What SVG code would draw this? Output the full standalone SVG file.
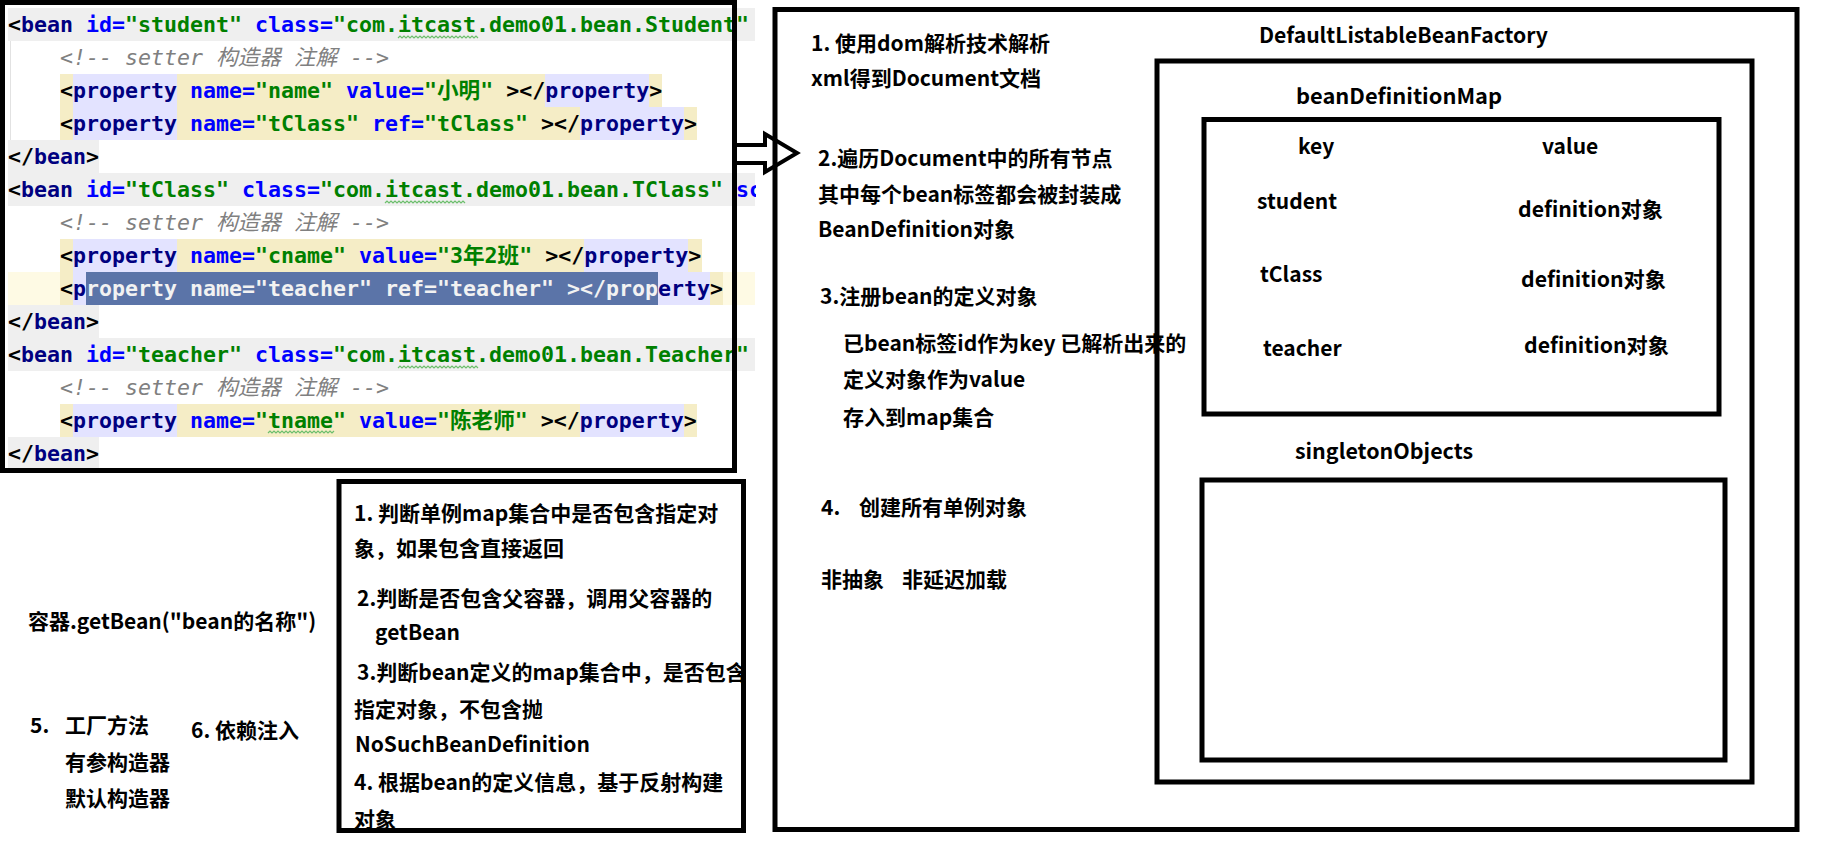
<svg xmlns="http://www.w3.org/2000/svg" width="1835" height="849" viewBox="0 0 1835 849">
<style>
.c{font-family:"DejaVu Sans Mono","Liberation Mono","Noto Sans CJK SC",monospace;font-size:21.6px;font-weight:bold}
.k{fill:#000}
.tg{fill:#000080}
.at{fill:#0000ff}
.v{fill:#008000}
.cm{fill:#808080;font-style:italic;font-weight:normal}
.sel{fill:#f2f2f2}
.g{fill:#efefef}
.y{fill:#f5edc6}
.lv{fill:#e3e3ff}
.box{fill:none;stroke:#000;stroke-width:5}
.t{font-family:"Noto Sans CJK SC","Noto Sans",sans-serif;font-weight:bold;font-size:21px;fill:#000}
.s{font-size:21px}
.wv{fill:none;stroke:#6cbf6c;stroke-width:1.2}
</style>
<defs>
<clipPath id="codeClip"><rect x="0" y="0" width="756" height="476"/></clipPath>
<clipPath id="stepClip"><rect x="339" y="481" width="404" height="350"/></clipPath>
<path id="wavy78" class="wv" d="M0,0 l2,-2 l2,2 l2,-2 l2,2 l2,-2 l2,2 l2,-2 l2,2 l2,-2 l2,2 l2,-2 l2,2 l2,-2 l2,2 l2,-2 l2,2 l2,-2 l2,2 l2,-2 l2,2 l2,-2 l2,2 l2,-2 l2,2 l2,-2 l2,2 l2,-2 l2,2 l2,-2 l2,2 l2,-2 l2,2 l2,-2 l2,2 l2,-2 l2,2 l2,-2 l2,2 l2,-2 l2,2"/>
<path id="wavy66" class="wv" d="M0,0 l2,-2 l2,2 l2,-2 l2,2 l2,-2 l2,2 l2,-2 l2,2 l2,-2 l2,2 l2,-2 l2,2 l2,-2 l2,2 l2,-2 l2,2 l2,-2 l2,2 l2,-2 l2,2 l2,-2 l2,2 l2,-2 l2,2 l2,-2 l2,2 l2,-2 l2,2 l2,-2 l2,2 l2,-2 l2,2 l2,-2"/>
</defs>
<rect width="1835" height="849" fill="#fff"/>

<g id="code-block" clip-path="url(#codeClip)">
  <rect class="g" x="8" y="8" width="747" height="33"/>
  <rect class="g" x="8" y="140" width="91" height="33"/>
  <rect class="g" x="8" y="173" width="747" height="33"/>
  <rect fill="#fefae4" x="8" y="272" width="747" height="33"/>
  <rect class="g" x="8" y="305" width="91" height="33"/>
  <rect class="g" x="8" y="338" width="747" height="33"/>
  <rect class="g" x="8" y="437" width="91" height="33"/>
  <line x1="10.5" y1="41" x2="10.5" y2="140" stroke="#e2e2e2" stroke-width="1"/>
  <rect class="y" x="60" y="74" width="602" height="33"/>
  <rect class="y" x="60" y="107" width="637" height="33"/>
  <rect class="y" x="60" y="239" width="642" height="33"/>
  <rect class="y" x="60" y="272" width="663" height="33"/>
  <rect class="y" x="60" y="404" width="637" height="33"/>
  <rect class="lv" x="73" y="74" width="104" height="33"/>
  <rect class="lv" x="545" y="74" width="104" height="33"/>
  <rect class="lv" x="73" y="107" width="104" height="33"/>
  <rect class="lv" x="580" y="107" width="104" height="33"/>
  <rect class="lv" x="73" y="239" width="104" height="33"/>
  <rect class="lv" x="584" y="239" width="104" height="33"/>
  <rect class="lv" x="73" y="272" width="104" height="33"/>
  <rect class="lv" x="606" y="272" width="104" height="33"/>
  <rect class="lv" x="73" y="404" width="104" height="33"/>
  <rect class="lv" x="580" y="404" width="104" height="33"/>
  <rect fill="#5b74a8" x="86" y="272" width="572" height="33"/>

  <text class="c" x="8" y="32"><tspan class="k">&lt;</tspan><tspan class="tg">bean</tspan><tspan class="at" x="86">id=</tspan><tspan class="v">"student"</tspan><tspan class="at" x="255">class=</tspan><tspan class="v">"com.itcast.demo01.bean.Student"</tspan></text>
  <use href="#wavy78" x="398" y="38"/>
  <text class="c cm" x="60" y="65">&lt;!-- setter 构造器 注解 --&gt;</text>
  <text class="c" x="60" y="98"><tspan class="k">&lt;</tspan><tspan class="tg">property</tspan><tspan class="at" x="190">name=</tspan><tspan class="v">"name"</tspan><tspan class="at" x="346">value=</tspan><tspan class="v">"小明</tspan><tspan class="v" x="480.2">"</tspan></text>
  <text class="c" x="506.2" y="98"><tspan class="k">&gt;&lt;/</tspan><tspan class="tg">property</tspan><tspan class="k">&gt;</tspan></text>
  <text class="c" x="60" y="131"><tspan class="k">&lt;</tspan><tspan class="tg">property</tspan><tspan class="at" x="190">name=</tspan><tspan class="v">"tClass"</tspan><tspan class="at" x="372">ref=</tspan><tspan class="v">"tClass"</tspan><tspan class="k" x="541">&gt;&lt;/</tspan><tspan class="tg">property</tspan><tspan class="k">&gt;</tspan></text>
  <text class="c" x="8" y="164"><tspan class="k">&lt;/</tspan><tspan class="tg">bean</tspan><tspan class="k">&gt;</tspan></text>
  <text class="c" x="8" y="197"><tspan class="k">&lt;</tspan><tspan class="tg">bean</tspan><tspan class="at" x="86">id=</tspan><tspan class="v">"tClass"</tspan><tspan class="at" x="242">class=</tspan><tspan class="v">"com.itcast.demo01.bean.TClass"</tspan><tspan class="at" x="736">sc</tspan></text>
  <use href="#wavy78" x="385" y="203"/>
  <text class="c cm" x="60" y="230">&lt;!-- setter 构造器 注解 --&gt;</text>
  <text class="c" x="60" y="263"><tspan class="k">&lt;</tspan><tspan class="tg">property</tspan><tspan class="at" x="190">name=</tspan><tspan class="v">"cname"</tspan><tspan class="at" x="359">value=</tspan><tspan class="v">"3年2班</tspan><tspan class="v" x="519.2">"</tspan></text>
  <text class="c" x="545.2" y="263"><tspan class="k">&gt;&lt;/</tspan><tspan class="tg">property</tspan><tspan class="k">&gt;</tspan></text>
  <text class="c" x="60" y="296"><tspan class="k">&lt;</tspan><tspan class="tg">p</tspan><tspan class="sel">roperty name="teacher" ref="teacher" &gt;&lt;/prop</tspan><tspan class="tg">erty</tspan><tspan class="k">&gt;</tspan></text>
  <text class="c" x="8" y="329"><tspan class="k">&lt;/</tspan><tspan class="tg">bean</tspan><tspan class="k">&gt;</tspan></text>
  <text class="c" x="8" y="362"><tspan class="k">&lt;</tspan><tspan class="tg">bean</tspan><tspan class="at" x="86">id=</tspan><tspan class="v">"teacher"</tspan><tspan class="at" x="255">class=</tspan><tspan class="v">"com.itcast.demo01.bean.Teacher"</tspan></text>
  <use href="#wavy78" x="398" y="368"/>
  <text class="c cm" x="60" y="395">&lt;!-- setter 构造器 注解 --&gt;</text>
  <text class="c" x="60" y="428"><tspan class="k">&lt;</tspan><tspan class="tg">property</tspan><tspan class="at" x="190">name=</tspan><tspan class="v">"tname"</tspan><tspan class="at" x="359">value=</tspan><tspan class="v">"陈老师</tspan><tspan class="v" x="514.8">"</tspan></text>
  <text class="c" x="540.8" y="428"><tspan class="k">&gt;&lt;/</tspan><tspan class="tg">property</tspan><tspan class="k">&gt;</tspan></text>
  <use href="#wavy66" x="268" y="433"/>
  <text class="c" x="8" y="461"><tspan class="k">&lt;/</tspan><tspan class="tg">bean</tspan><tspan class="k">&gt;</tspan></text>
</g>
<rect id="code-frame" class="box" x="2.5" y="2.5" width="732" height="468"/>

<g id="connectors">
  <polygon points="735,145 765,145 765,134 797,153 765,172 765,163 735,163" fill="none" stroke="#000" stroke-width="4" stroke-linejoin="miter"/>
</g>

<g id="container">
  <rect class="box" x="775" y="9.5" width="1022" height="820"/>
  <text class="t" x="811" y="51">1. 使用dom解析技术解析</text>
  <text class="t" x="811" y="86">xml得到Document文档</text>
  <text class="t" x="818" y="166">2.遍历Document中的所有节点</text>
  <text class="t" x="818" y="202">其中每个bean标签都会被封装成</text>
  <text class="t" x="818" y="237">BeanDefinition对象</text>
  <text class="t" x="820" y="304">3.注册bean的定义对象</text>
  <text class="t" x="843" y="351">已bean标签id作为key 已解析出来的</text>
  <text class="t" x="843" y="387">定义对象作为value</text>
  <text class="t" x="843" y="425">存入到map集合</text>
  <text class="t" x="821" y="515">4.</text>
  <text class="t" x="859" y="515">创建所有单例对象</text>
  <text class="t" x="821" y="587">非抽象</text>
  <text class="t" x="902" y="587">非延迟加载</text>
</g>

<g id="bean-factory">
  <rect class="box" x="1157" y="61" width="595" height="721"/>
  <text class="t s" x="1259" y="43" textLength="289" lengthAdjust="spacingAndGlyphs">DefaultListableBeanFactory</text>
</g>

<g id="bean-definition-map">
  <rect class="box" x="1204" y="119.5" width="515" height="294.5"/>
  <text class="t s" x="1296" y="104" textLength="206" lengthAdjust="spacingAndGlyphs">beanDefinitionMap</text>
  <text class="t s" x="1298" y="154">key</text>
  <text class="t s" x="1542" y="154">value</text>
  <text class="t s" x="1257" y="209">student</text>
  <text class="t s" x="1518" y="217" textLength="145" lengthAdjust="spacingAndGlyphs">definition对象</text>
  <text class="t s" x="1260" y="282">tClass</text>
  <text class="t s" x="1521" y="287" textLength="145" lengthAdjust="spacingAndGlyphs">definition对象</text>
  <text class="t s" x="1263" y="356">teacher</text>
  <text class="t s" x="1524" y="353" textLength="145" lengthAdjust="spacingAndGlyphs">definition对象</text>
</g>

<g id="singleton-objects">
  <rect class="box" x="1202" y="480" width="523" height="280"/>
  <text class="t s" x="1295" y="459" textLength="178" lengthAdjust="spacingAndGlyphs">singletonObjects</text>
</g>

<g id="get-bean-steps">
  <g clip-path="url(#stepClip)">
    <text class="t" x="354" y="521">1. 判断单例map集合中是否包含指定对</text>
    <text class="t" x="354" y="556">象，如果包含直接返回</text>
    <text class="t" x="357" y="606">2.判断是否包含父容器，调用父容器的</text>
    <text class="t" x="375" y="640">getBean</text>
    <text class="t" x="357" y="680">3.判断bean定义的map集合中，是否包含</text>
    <text class="t" x="354" y="717">指定对象，不包含抛</text>
    <text class="t" x="355" y="752">NoSuchBeanDefinition</text>
    <text class="t" x="354" y="790">4. 根据bean的定义信息，基于反射构建</text>
    <text class="t" x="354" y="827">对象</text>
  </g>
  <rect class="box" x="339" y="481.5" width="404.5" height="349"/>
</g>

<g id="get-bean-call">
  <text class="t" x="28" y="629">容器.getBean("bean的名称")</text>
</g>

<g id="step5">
  <text class="t" x="30" y="733">5.</text>
  <text class="t" x="65" y="733">工厂方法</text>
  <text class="t" x="65" y="770">有参构造器</text>
  <text class="t" x="65" y="806">默认构造器</text>
</g>

<g id="step6">
  <text class="t" x="191" y="738">6. 依赖注入</text>
</g>
</svg>
